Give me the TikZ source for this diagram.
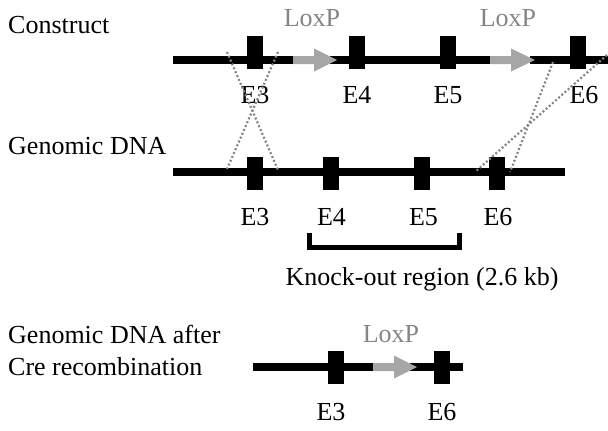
\documentclass[tikz,border=0pt]{standalone}
\usepackage{fontspec}
\setmainfont{Liberation Serif}
\definecolor{loxarrow}{HTML}{A6A6A6}
\definecolor{loxtext}{HTML}{858585}
\definecolor{dotgray}{HTML}{858585}
\begin{document}
\begin{tikzpicture}[x=1pt,y=-1pt,
  lbl/.style={font=\fontsize{26}{31}\selectfont, inner sep=0pt, anchor=base},
  sidelbl/.style={lbl, anchor=base west},
  loxlbl/.style={lbl, text=loxtext},
  exon/.style={fill=black, draw=none, minimum width=16pt, minimum height=33pt, inner sep=0pt},
  dna/.style={line width=8pt, black},
  xover/.style={draw=dotgray, line width=2.2pt, dash pattern=on 2pt off 2.2pt},
  bracketline/.style={line width=4.5pt, black},
  loxfill/.style={fill=loxarrow, draw=none}]
\useasboundingbox (0,0) rectangle (608,431);

% ---------- side labels ----------
\node[sidelbl] (tconstruct) at (8,33) {Construct};
\node[sidelbl] (tgenomic) at (8,154) {Genomic DNA};
\node[sidelbl] (tafter1) at (8,343) {Genomic DNA after};
\node[sidelbl] (tafter2) at (8,375) {Cre recombination};

% ---------- construct ----------
\coordinate (cs) at (173,60);
\coordinate (ce) at (608,60);
\draw[dna] (cs) -- (293.5,60);
\draw[dna] (330,60) -- (490.5,60);
\draw[dna] (530,60) -- (ce);
\fill[loxfill] (293,56) -- (314,56) -- (314,48.5) -- (337,60) -- (314,71.5) -- (314,64) -- (293,64) -- cycle;
\fill[loxfill] (490,56) -- (511,56) -- (511,48.5) -- (535,60) -- (511,71.5) -- (511,64) -- (490,64) -- cycle;
\node[exon] (cE3) at (255,52.5) {};
\node[exon] (cE4) at (357,52.5) {};
\node[exon] (cE5) at (448,52.5) {};
\node[exon] (cE6) at (578,52.5) {};
\node[loxlbl] (lox1) at (312,27) {LoxP};
\node[loxlbl] (lox2) at (508,27) {LoxP};
\node[lbl] (lcE3) at (255,103) {E3};
\node[lbl] (lcE4) at (357,103) {E4};
\node[lbl] (lcE5) at (448,103) {E5};
\node[lbl] (lcE6) at (584,103) {E6};

% ---------- genomic ----------
\coordinate (gs) at (173,172);
\coordinate (ge) at (565,172);
\draw[dna] (gs) -- (ge);
\node[exon] (gE3) at (255,173.5) {};
\node[exon] (gE4) at (331,173.5) {};
\node[exon] (gE5) at (422,173.5) {};
\node[exon] (gE6) at (497,173.5) {};
\node[lbl] (lgE3) at (255,225) {E3};
\node[lbl] (lgE4) at (331.5,225) {E4};
\node[lbl] (lgE5) at (423.5,225) {E5};
\node[lbl] (lgE6) at (498,225) {E6};

% ---------- crossover dotted lines ----------
\coordinate (x1) at (227,52);
\coordinate (x2) at (278,52);
\coordinate (x3) at (553,62);
\coordinate (x4) at (607,55);
\coordinate (y1) at (227,169);
\coordinate (y2) at (278,170);
\coordinate (y3) at (475,172);
\coordinate (y4) at (510,172);
\draw[xover] (x1) -- (y2);
\draw[xover] (x2) -- (y1);
\draw[xover] (x3) -- (y4);
\draw[xover] (x4) -- (y3);

% ---------- knock-out bracket ----------
\coordinate (bl) at (309.5,233);
\coordinate (br) at (459.5,233);
\draw[bracketline] (bl) -- (309.5,247.5) -- (459.5,247.5) -- (br);
\node[lbl] (ko) at (422,285) {Knock-out region (2.6 kb)};

% ---------- after Cre ----------
\coordinate (rs) at (253,367);
\coordinate (re) at (463,367);
\draw[dna] (rs) -- (373.5,367);
\draw[dna] (410,367) -- (re);
\fill[loxfill] (373,363) -- (394,363) -- (394,355.5) -- (417,367) -- (394,378.5) -- (394,371) -- (373,371) -- cycle;
\node[exon] (rE3) at (336,367) {};
\node[exon] (rE6) at (442,367) {};
\node[loxlbl] (lox3) at (391,342) {LoxP};
\node[lbl] (lrE3) at (331,420) {E3};
\node[lbl] (lrE6) at (442,420) {E6};
\end{tikzpicture}
\end{document}
